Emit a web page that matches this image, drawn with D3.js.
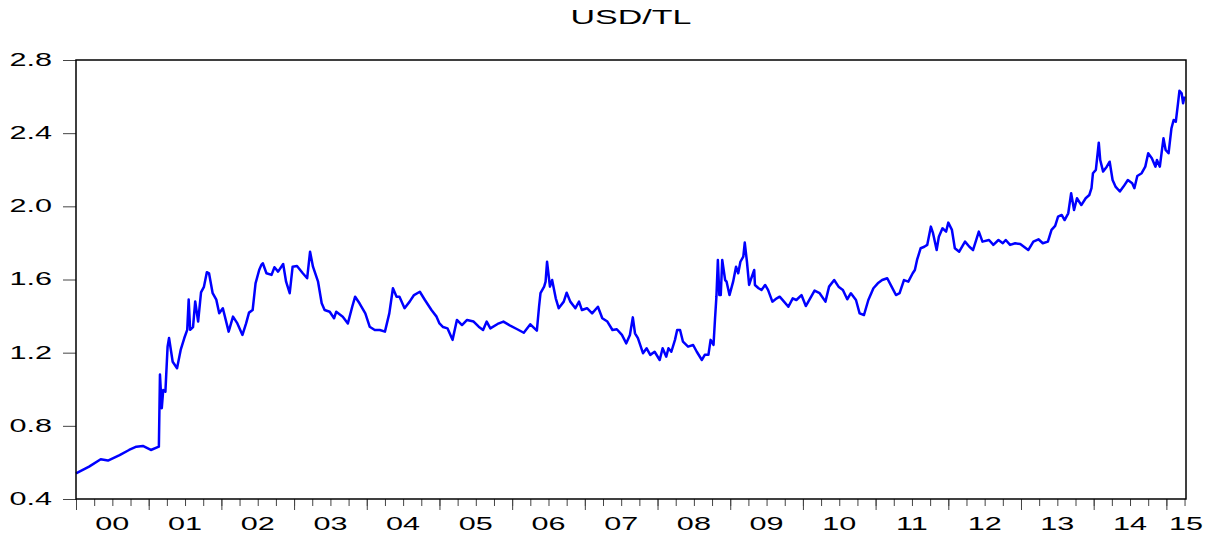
<!DOCTYPE html>
<html>
  <head>
    <meta charset="utf-8">
    <title>USD/TL</title>
    <script src="https://d3js.org/d3.v7.min.js"></script>
    <style>
      body { margin: 0; background: white; }
      svg { background-color: white; display: block; }
      text { font-family: "Liberation Sans", Arial, sans-serif; fill: black; }
      .frame { fill: none; stroke: black; stroke-width: 1.5px; }
      .axis path { stroke: none; }
      .axis line { stroke: #444; stroke-width: 1px; }
      .series { fill: none; stroke: #0000ff; stroke-width: 2.5px; stroke-linejoin: round; }
    </style>
  </head>
  <body>
    <svg></svg>
    <script>
      //begin: data (decimal year, USD/TL rate)
      var obsDates = [
        2000.00, 2000.18, 2000.34, 2000.44, 2000.60, 2000.73, 2000.83, 2000.92, 2001.03, 2001.14,
        2001.155, 2001.18, 2001.20, 2001.23, 2001.26, 2001.28, 2001.33, 2001.39, 2001.44, 2001.49,
        2001.53, 2001.55, 2001.57, 2001.61, 2001.64, 2001.68, 2001.72, 2001.76, 2001.80, 2001.83,
        2001.88, 2001.93, 2001.97, 2002.02, 2002.10, 2002.16, 2002.22, 2002.29, 2002.34, 2002.38,
        2002.43, 2002.47, 2002.52, 2002.55, 2002.57, 2002.62, 2002.69, 2002.73, 2002.78, 2002.85,
        2002.89, 2002.94, 2002.98, 2003.04, 2003.12, 2003.18, 2003.22, 2003.26, 2003.33, 2003.38,
        2003.42, 2003.49, 2003.55, 2003.58, 2003.67, 2003.74, 2003.80, 2003.84, 2003.90, 2003.98,
        2004.04, 2004.11, 2004.18, 2004.25, 2004.31, 2004.36, 2004.41, 2004.45, 2004.52, 2004.59,
        2004.65, 2004.73, 2004.80, 2004.89, 2004.96, 2005.00, 2005.05, 2005.11, 2005.18, 2005.24,
        2005.31, 2005.38, 2005.47, 2005.54, 2005.60, 2005.65, 2005.70, 2005.80, 2005.88, 2005.98,
        2006.07, 2006.16, 2006.25, 2006.34, 2006.37, 2006.39, 2006.44, 2006.46, 2006.48, 2006.52,
        2006.55, 2006.60, 2006.64, 2006.71, 2006.75, 2006.80, 2006.87, 2006.92, 2006.96, 2007.03,
        2007.10, 2007.18, 2007.24, 2007.31, 2007.38, 2007.44, 2007.51, 2007.57, 2007.62, 2007.66,
        2007.69, 2007.73, 2007.80, 2007.85, 2007.90, 2007.96, 2008.03, 2008.07, 2008.12, 2008.15,
        2008.19, 2008.24, 2008.27, 2008.31, 2008.35, 2008.42, 2008.49, 2008.54, 2008.61, 2008.65,
        2008.70, 2008.73, 2008.77, 2008.79, 2008.81, 2008.83, 2008.85, 2008.87, 2008.89, 2008.93,
        2008.95, 2008.99, 2009.04, 2009.08, 2009.11, 2009.14, 2009.18, 2009.20, 2009.23, 2009.26,
        2009.29, 2009.33, 2009.34, 2009.39, 2009.43, 2009.48, 2009.52, 2009.58, 2009.64, 2009.68,
        2009.74, 2009.80, 2009.86, 2009.91, 2009.98, 2010.04, 2010.10, 2010.16, 2010.23, 2010.31,
        2010.36, 2010.43, 2010.49, 2010.55, 2010.61, 2010.66, 2010.73, 2010.78, 2010.84, 2010.90,
        2010.97, 2011.03, 2011.09, 2011.16, 2011.22, 2011.28, 2011.33, 2011.39, 2011.45, 2011.51,
        2011.54, 2011.57, 2011.62, 2011.67, 2011.71, 2011.76, 2011.79, 2011.84, 2011.87, 2011.92,
        2011.97, 2012.00, 2012.05, 2012.09, 2012.15, 2012.23, 2012.29, 2012.34, 2012.42, 2012.47,
        2012.56, 2012.62, 2012.69, 2012.75, 2012.79, 2012.85, 2012.92, 2012.99, 2013.10, 2013.17,
        2013.24, 2013.30, 2013.37, 2013.42, 2013.47, 2013.51, 2013.56, 2013.60, 2013.65, 2013.69,
        2013.73, 2013.77, 2013.83, 2013.89, 2013.94, 2013.97, 2013.99, 2014.03, 2014.07, 2014.09,
        2014.13, 2014.18, 2014.22, 2014.26, 2014.30, 2014.36, 2014.41, 2014.47, 2014.53, 2014.56,
        2014.60, 2014.66, 2014.71, 2014.75, 2014.80, 2014.85, 2014.87, 2014.91, 2014.96, 2014.99,
        2015.03, 2015.07, 2015.10, 2015.13, 2015.16, 2015.18, 2015.21, 2015.23, 2015.25
      ];
      var usdTl = [
        0.540, 0.577, 0.617, 0.610, 0.640, 0.668, 0.686, 0.690, 0.668, 0.686,
        1.080, 0.896, 0.996, 0.987, 1.233, 1.280, 1.150, 1.115, 1.215, 1.280,
        1.325, 1.490, 1.325, 1.340, 1.480, 1.370, 1.530, 1.560, 1.640, 1.634,
        1.525, 1.490, 1.415, 1.443, 1.315, 1.397, 1.360, 1.297, 1.360, 1.419,
        1.433, 1.579, 1.652, 1.680, 1.689, 1.634, 1.625, 1.667, 1.643, 1.685,
        1.588, 1.525, 1.670, 1.674, 1.634, 1.607, 1.752, 1.670, 1.588, 1.470,
        1.433, 1.424, 1.388, 1.424, 1.397, 1.360, 1.451, 1.506, 1.470, 1.415,
        1.342, 1.324, 1.324, 1.315, 1.415, 1.552, 1.506, 1.506, 1.443, 1.479,
        1.515, 1.533, 1.488, 1.433, 1.397, 1.360, 1.340, 1.333, 1.270, 1.379,
        1.351, 1.379, 1.370, 1.342, 1.324, 1.370, 1.333, 1.357, 1.370, 1.346,
        1.328, 1.309, 1.355, 1.320, 1.451, 1.525, 1.561, 1.588, 1.697, 1.561,
        1.597, 1.497, 1.443, 1.479, 1.528, 1.479, 1.443, 1.479, 1.433, 1.443,
        1.415, 1.451, 1.388, 1.370, 1.324, 1.328, 1.297, 1.251, 1.297, 1.393,
        1.306, 1.279, 1.197, 1.224, 1.188, 1.205, 1.160, 1.224, 1.178, 1.224,
        1.205, 1.270, 1.324, 1.324, 1.260, 1.233, 1.242, 1.205, 1.160, 1.188,
        1.188, 1.270, 1.242, 1.379, 1.506, 1.707, 1.515, 1.515, 1.707, 1.597,
        1.588, 1.515, 1.588, 1.670, 1.634, 1.697, 1.725, 1.802, 1.697, 1.570,
        1.607, 1.652, 1.570, 1.552, 1.543, 1.570, 1.543, 1.479, 1.497, 1.506,
        1.479, 1.451, 1.497, 1.488, 1.515, 1.455, 1.497, 1.539, 1.525, 1.479,
        1.561, 1.597, 1.561, 1.543, 1.492, 1.525, 1.488, 1.415, 1.406, 1.488,
        1.552, 1.579, 1.597, 1.607, 1.561, 1.515, 1.525, 1.597, 1.588, 1.634,
        1.652, 1.707, 1.771, 1.779, 1.789, 1.889, 1.853, 1.761, 1.834, 1.880,
        1.862, 1.911, 1.871, 1.771, 1.752, 1.807, 1.779, 1.761, 1.862, 1.807,
        1.816, 1.789, 1.816, 1.798, 1.816, 1.789, 1.798, 1.794, 1.761, 1.807,
        1.820, 1.798, 1.807, 1.871, 1.893, 1.944, 1.953, 1.925, 1.962, 2.072,
        1.980, 2.044, 2.007, 2.044, 2.062, 2.099, 2.181, 2.199, 2.348, 2.253,
        2.190, 2.217, 2.244, 2.144, 2.108, 2.081, 2.108, 2.144, 2.126, 2.099,
        2.166, 2.181, 2.217, 2.290, 2.263, 2.217, 2.253, 2.217, 2.372, 2.308,
        2.290, 2.427, 2.472, 2.463, 2.563, 2.632, 2.618, 2.563, 2.600
      ];
      var yTicks = [0.4, 0.8, 1.2, 1.6, 2.0, 2.4, 2.8];
      var years = d3.range(2000, 2016);
      var yearLabels = ["00", "01", "02", "03", "04", "05", "06", "07", "08", "09", "10", "11", "12", "13", "14", "15"];
      var sampleEnd = 2015.27;
      //end: data

      //begin: layout config.
      var svgWidth = 1214,
          svgHeight = 539,
          margin = {top: 60, right: 28, bottom: 40, left: 76},
          width = svgWidth - margin.left - margin.right,
          height = svgHeight - margin.top - margin.bottom,
          stretch = 1.7;
      //end: layout config.

      var x = d3.scaleLinear().domain([2000, sampleEnd]).range([0, width]);
      var y = d3.scaleLinear().domain([0.4, 2.8]).range([height, 0]);

      var svg = d3.select("svg")
        .attr("width", svgWidth)
        .attr("height", svgHeight);

      svg.append("text")
        .attr("transform", "translate(" + [margin.left + width / 2, 24] + ") scale(" + stretch + ",1)")
        .attr("text-anchor", "middle")
        .style("font-size", "20px")
        .text("USD/TL");

      var g = svg.append("g")
        .attr("transform", "translate(" + [margin.left, margin.top] + ")");

      // y axis, ticks pointing outwards
      var yAxis = g.append("g")
        .classed("axis", true)
        .call(d3.axisLeft(y).tickValues(yTicks).tickSize(13).tickFormat(d3.format(".1f")));
      yAxis.selectAll("text")
        .attr("x", 0)
        .attr("dy", "0.3em")
        .attr("transform", "translate(-24,0) scale(" + stretch + ",1)")
        .style("font-size", "18px");

      // x axis: quarter ticks and year ticks
      var quarters = d3.range(2000, sampleEnd, 0.25);
      g.append("g")
        .classed("axis", true)
        .attr("transform", "translate(0," + height + ")")
        .call(d3.axisBottom(x).tickValues(quarters).tickSize(7).tickFormat(""));
      g.append("g")
        .classed("axis", true)
        .attr("transform", "translate(0," + height + ")")
        .call(d3.axisBottom(x).tickValues(years).tickSize(11).tickFormat(""));

      g.append("g")
        .selectAll("text")
        .data(years)
        .enter()
          .append("text")
            .attr("transform", function(d){
              return "translate(" + [x(Math.min(d + 0.5, sampleEnd)), height + 31] + ") scale(" + stretch + ",1)";
            })
            .attr("text-anchor", "middle")
            .style("font-size", "18px")
            .text(function(d, i){ return yearLabels[i]; });

      // series
      var points = obsDates.map(function(d, i){ return [d, usdTl[i]]; });
      var line = d3.line()
        .x(function(d){ return x(d[0]); })
        .y(function(d){ return y(d[1]); });

      g.append("path")
        .classed("series", true)
        .attr("d", line(points));

      g.append("rect")
        .classed("frame", true)
        .attr("width", width)
        .attr("height", height);
    </script>
  </body>
</html>
